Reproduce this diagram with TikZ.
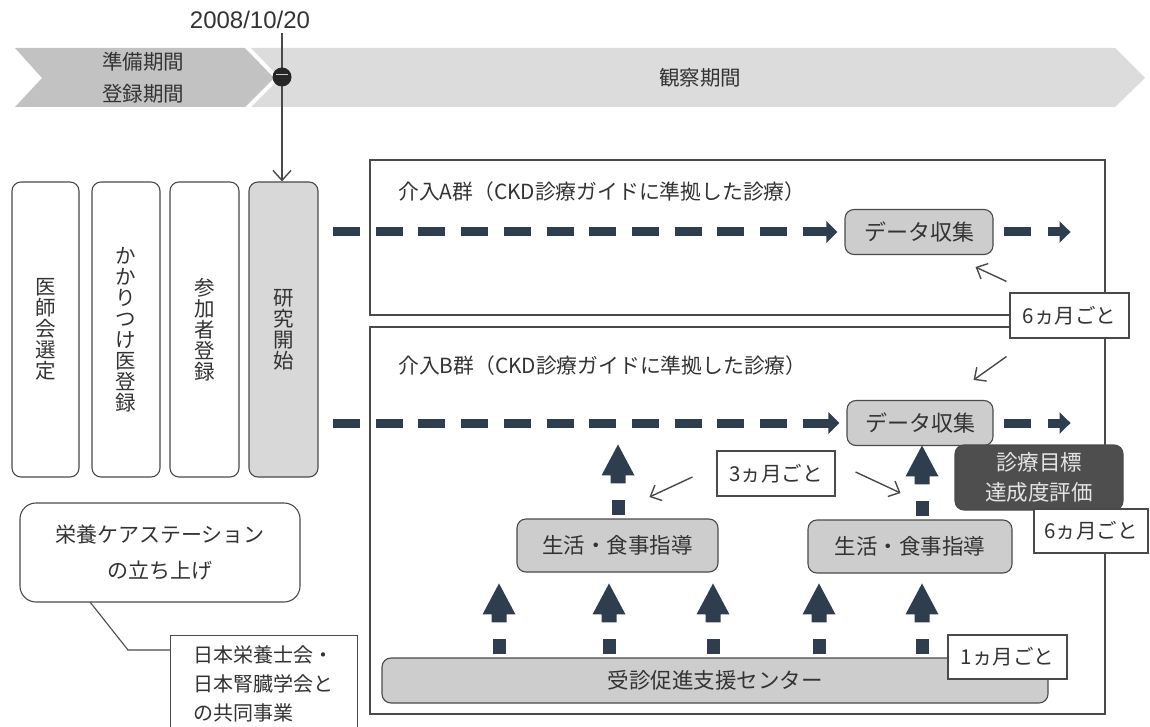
\documentclass[tikz,border=0pt]{standalone}
\usepackage{fontspec}
\setmainfont{Noto Sans CJK JP}
\newfontfamily\latinsans{Liberation Sans}
\usetikzlibrary{arrows.meta,calc}
\definecolor{bd}{HTML}{4A4A4A}
\definecolor{tx}{HTML}{333333}
\definecolor{gfill}{HTML}{CDCDCD}
\definecolor{gfilltwo}{HTML}{D8D8D8}
\definecolor{navy}{HTML}{2F3E4E}
\definecolor{darkbox}{HTML}{4E4E4E}
\definecolor{bandL}{HTML}{C2C2C2}
\definecolor{bandR}{HTML}{DCDCDC}
\newcommand\fsz[2]{\fontsize{#1}{#2}\selectfont}
\newcommand\blkup[1]{%
  \begin{scope}[shift={(#1)}]
    \fill[navy] (-6.5,-3) rectangle (6.5,-18);
    \fill[navy] (-7.5,-35) -- (-7.5,-43) -- (-16.5,-43) -- (0,-74) -- (16.5,-43) -- (7.5,-43) -- (7.5,-35) -- cycle;
  \end{scope}}
\begin{document}
\begin{tikzpicture}[x=1pt,y=-1pt,
  box/.style={draw=bd, line width=1.1pt, inner sep=0pt, text=tx, align=center},
  rbox/.style={box, rounded corners=9pt},
  gbox/.style={rbox, fill=gfill},
  wbox/.style={box, fill=white},
  vtext/.style={font=\fsz{20.5}{21}},
  lbl/.style={text=tx, inner sep=0pt},
  dashln/.style={draw=navy, line width=9pt, dash pattern=on 27pt off 15.7pt},
  darr/.style={draw=navy, line width=9pt, -{Triangle[length=11pt,width=21pt]}},
  thin/.style={draw=bd, line width=1.4pt, -{Straight Barb[length=9pt,width=17pt]}},
]
\useasboundingbox (0,0) rectangle (1150,727);
\clip (0,0) rectangle (1150,727);

% timeline band
\fill[bandR] (251,48) -- (1115,48) -- (1145,78) -- (1115,107) -- (251,107) -- (280,78) -- cycle;
\fill[bandL] (15,48) -- (245,48) -- (274,78) -- (245,107) -- (15,107) -- (42,78) -- cycle;
\node[lbl, font=\fsz{20.5}{24}] (prep) at (143,62) {準備期間};
\node[lbl, font=\fsz{20.5}{24}] (reg) at (143,94) {登録期間};
\node[lbl, font=\fsz{20.5}{24}] (obs) at (700,78) {観察期間};
\node[lbl, font=\latinsans\fsz{24}{26}] (date) at (250,20) {2008/10/20};

% left column boxes
\node[rbox, minimum width=67pt, minimum height=295pt, vtext] (doc) at (45.5,329.5) {医\\師\\会\\選\\定};
\node[rbox, minimum width=68pt, minimum height=295pt, vtext] (kak) at (126,329.5) {か\\か\\り\\つ\\け\\医\\登\\録};
\node[rbox, minimum width=69pt, minimum height=295pt, vtext] (par) at (204.5,329.5) {参\\加\\者\\登\\録};
\node[rbox, fill=gfilltwo, minimum width=69pt, minimum height=295pt, vtext] (start) at (283.5,329.5) {研\\究\\開\\始};

% date line
\coordinate (t0) at (282,33);
\draw[bd, line width=1.4pt, -{Straight Barb[length=10pt,width=18pt]}] (t0) -- (t0 |- start.north);
\node[circle, fill=black!85, minimum size=19pt, inner sep=0pt] (mark) at (282,77) {};
\draw[white!80!black, line width=1pt] ($(mark.center)+(-6,-2)$) -- ($(mark.center)+(6,-2)$);

% nutrition care station
\node[box, rounded corners=16pt, minimum width=280pt, minimum height=99pt, font=\fsz{21}{36}] (eiyou) at (160,552.5) {栄養ケアステーション\\の立ち上げ};
\node[wbox, anchor=north west, minimum width=187pt, minimum height=110pt] (joint) at (170,635) {};
\node[lbl, anchor=west, align=left, font=\fsz{20}{29}] (jointtxt) at (193,684) {日本栄養士会・\\日本腎臓学会と\\の共同事業};
\coordinate (cb) at (90,602);
\draw[bd, line width=1.1pt] (cb) -- (128,650) -- (joint.west |- 0,650);

% groups
\node[box, minimum width=735pt, minimum height=155pt] (grpA) at (737.5,237.5) {};
\node[box, minimum width=735pt, minimum height=387pt] (grpB) at (737.5,520.5) {};
\node[lbl, anchor=west, font=\fsz{20.8}{24}] (labA) at (398,192) {介入A群（CKD診療ガイドに準拠した診療）};
\node[lbl, anchor=west, font=\fsz{20.8}{24}] (labB) at (398,366) {介入B群（CKD診療ガイドに準拠した診療）};

% data boxes
\node[gbox, minimum width=148pt, minimum height=45pt, font=\fsz{22}{24}] (dataA) at (919,232) {データ収集};
\node[gbox, minimum width=146pt, minimum height=45pt, font=\fsz{22}{24}] (dataB) at (920,423) {データ収集};

% dashed flow A
\coordinate (sA) at (333,0 |- dataA.west);
\coordinate (eA) at (790,0 |- dataA.west);
\coordinate (aA) at (803,0 |- dataA.west);
\draw[dashln] (sA) -- (eA);
\draw[darr, shorten >=7pt] (aA) -- (dataA.west);
\draw[navy, line width=9pt] ([xshift=10pt]dataA.east) -- ([xshift=37pt]dataA.east);
\coordinate (fA) at ([xshift=77pt]dataA.east);
\draw[darr] ([xshift=54pt]dataA.east) -- (fA);

% dashed flow B
\coordinate (sB) at (333,0 |- dataB.west);
\coordinate (eB) at (790,0 |- dataB.west);
\coordinate (aB) at (803,0 |- dataB.west);
\draw[dashln] (sB) -- (eB);
\draw[darr, shorten >=7pt] (aB) -- (dataB.west);
\draw[navy, line width=9pt] ([xshift=10pt]dataB.east) -- ([xshift=37pt]dataB.east);
\coordinate (fB) at ([xshift=77pt]dataB.east);
\draw[darr] ([xshift=54pt]dataB.east) -- (fB);

% life guidance boxes
\node[gbox, minimum width=201pt, minimum height=53pt, font=\fsz{21.5}{24}] (life1) at (617.5,545.5) {生活・食事指導};
\node[gbox, minimum width=204pt, minimum height=53pt, font=\fsz{21.5}{24}] (life2) at (910,546.5) {生活・食事指導};

% hub
\node[gbox, minimum width=666pt, minimum height=45pt, font=\fsz{21.5}{24}] (hub) at (715,680.5) {受診促進支援センター};
\node[wbox, minimum width=119pt, minimum height=44pt, font=\fsz{20.5}{24}] (one) at (1007.5,657) {1ヵ月ごと};

% block arrows
\foreach \xx/\nm in {499/la,609/lb,713/lc,819/ld,922/le} {
  \coordinate (\nm) at (\xx,0 |- hub.north);
  \blkup{\nm}
}
\coordinate (ua) at (618,0 |- life1.north);
\blkup{ua}
\coordinate (ub) at (922,0 |- life2.north);
\blkup{ub}

% goal box
\node[rbox, fill=darkbox, text=white!90!black, minimum width=168pt, minimum height=65pt, font=\fsz{21.5}{30}] (goal) at (1039,477.5) {診療目標\\達成度評価};
\node[wbox, minimum width=114pt, minimum height=44pt, font=\fsz{20.5}{24}] (sixB) at (1091,531) {6ヵ月ごと};

% interval labels
\node[wbox, minimum width=119pt, minimum height=45pt, font=\fsz{20.5}{24}] (sixA) at (1069.5,315.5) {6ヵ月ごと};
\node[wbox, minimum width=118pt, minimum height=45pt, font=\fsz{20.5}{24}] (three) at (776,473.5) {3ヵ月ごと};

% thin arrows
\draw[thin] ($(sixA.north west)+(-3,-11)$) -- ($(dataA.south east)+(-18,12)$);
\draw[thin] ($(sixA.south west)+(-3,18)$) -- ($(dataB.north east)+(-20,-20)$);
\draw[thin] ($(three.west)+(-24,3.5)$) -- ($(three.west)+(-67,23.5)$);
\draw[thin] ($(three.east)+(20,-1.5)$) -- ($(three.east)+(65,19.5)$);
\end{tikzpicture}
\end{document}
